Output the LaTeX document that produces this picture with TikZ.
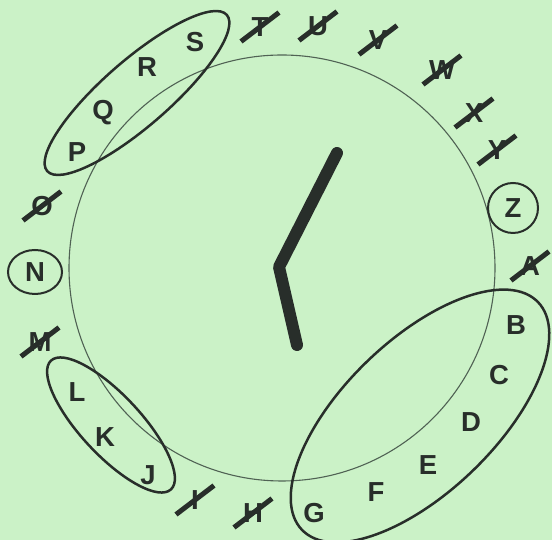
\documentclass[tikz,border=0pt]{standalone}
\usepackage{fontspec}
\setmainfont{Liberation Sans}
\definecolor{paper}{RGB}{203,242,199}
\definecolor{ink}{RGB}{40,46,42}
\definecolor{rim}{RGB}{80,98,84}
\begin{document}
\begin{tikzpicture}[x=1pt, y=1pt]
\tikzset{
  letter/.style={font=\fontsize{27.5}{27.5}\selectfont\bfseries, text=ink, inner sep=0pt, text height=19.5pt, text depth=0pt},
  strike/.style={draw=ink, line width=5pt},
  ring/.style={draw=ink, line width=2pt},
  group/.style={draw=ink, line width=2.5pt}
}
\fill[paper] (0,0) rectangle (552,540);
\useasboundingbox (0,0) rectangle (552,540);

\coordinate (dial) at (282,272);
\draw[rim, line width=1.1pt] (dial) circle [radius=213];

\coordinate (tip) at (337,387);
\coordinate (hub) at (279,273);
\coordinate (tail) at (297,195);
\draw[ink, line width=12pt, line cap=round, line join=round] (tip) -- (hub) -- (tail);

\foreach \n/\x/\y in {A/530/274, B/516/215, C/499/165, D/471/118, E/428/75,
  F/376/48, G/314/27, H/253/27, I/195/40, J/148/65, K/105/103, L/77/148,
  M/40/198, N/35/268, O/42/334, P/77/388, Q/103/430, R/147/473, S/195/498,
  T/260/513, U/318/514, V/378/500, W/442/470, X/474/427, Y/497/390, Z/513/332}
  \node[letter] (\n) at (\x,\y) {\n};

\foreach \n in {A,H,I,M,O,T,U,V,W,X,Y}
  \draw[strike] ([shift={(-19,-14.5)}]\n.center) -- ([shift={(19,14.5)}]\n.center);

\draw[ring] (N.center) ellipse [x radius=27, y radius=22];
\draw[ring] (Z.center) ellipse [x radius=25, y radius=25];

\draw[group] (137,447) ellipse [x radius=119, y radius=33, rotate=41];
\draw[group] (111,115) ellipse [x radius=88, y radius=30, rotate=-47];
\draw[group] (420,124) ellipse [x radius=164, y radius=76, rotate=44];
\end{tikzpicture}
\end{document}
